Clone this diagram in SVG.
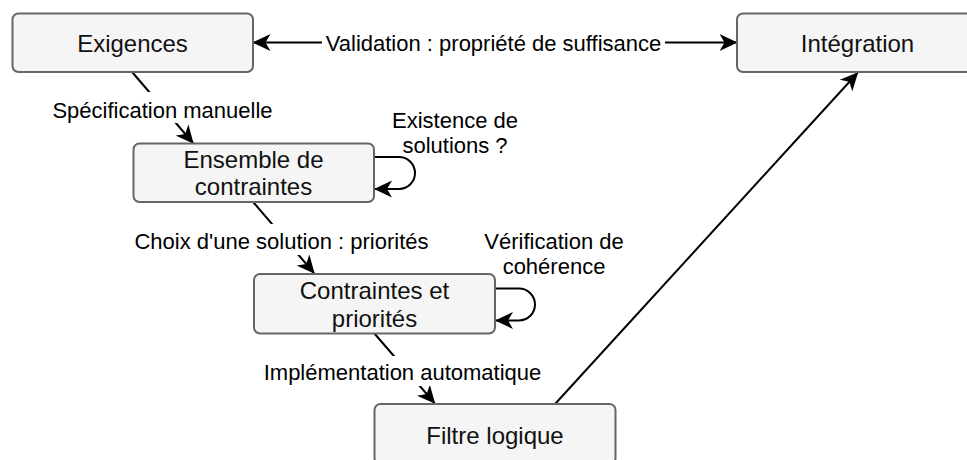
<svg xmlns="http://www.w3.org/2000/svg" width="967" height="460" viewBox="0 0 967 460">
<style>
.node rect{fill:#f5f5f5;stroke:#666666;stroke-width:2}
.node text{font-family:"Liberation Sans",Arial,sans-serif;font-size:24px;fill:#111;text-anchor:middle}
.edge{fill:none;stroke:#000;stroke-width:2}
.lbl text{font-family:"Liberation Sans",Arial,sans-serif;font-size:22px;fill:#000;text-anchor:middle}
.lbl rect{fill:#fff;stroke:none}
</style>
<defs>
<marker id="arr" viewBox="0 0 18 18" refX="17" refY="9" markerWidth="18" markerHeight="18" markerUnits="userSpaceOnUse" orient="auto-start-reverse">
<path d="M0,0.5 L18,9 L0,17.5 L5,9 Z" fill="#000"/>
</marker>
</defs>
<rect width="967" height="460" fill="#fff"/>
<g id="connectors">
<path class="edge" d="M253.5,42.5 H736.5" marker-start="url(#arr)" marker-end="url(#arr)"/>
<path class="edge" d="M132.5,72.5 L193,143" marker-end="url(#arr)"/>
<path class="edge" d="M253.5,202.5 L314,273" marker-end="url(#arr)"/>
<path class="edge" d="M374,333 L434.5,403" marker-end="url(#arr)"/>
<path class="edge" d="M555.5,403.5 L857.5,73" marker-end="url(#arr)"/>
<path class="edge" d="M374.5,157 H399 A16,16 0 0 1 399,189 H375" marker-end="url(#arr)"/>
<path class="edge" d="M495.5,288.5 H519 A16,16 0 0 1 519,320.5 H496" marker-end="url(#arr)"/>
</g>
<g id="edge-labels" class="lbl">
<rect x="322" y="27" width="343" height="30"/>
<text x="493.5" y="50.5">Validation : propriété de suffisance</text>
<rect x="50" y="92" width="226" height="31"/>
<text x="162.5" y="117.5">Spécification manuelle</text>
<rect x="145" y="224" width="273" height="31"/>
<text x="281.5" y="249">Choix d'une solution : priorités</text>
<rect x="275" y="356" width="255" height="30"/>
<text x="402.5" y="379.5">Implémentation automatique</text>
<text x="455" y="128">Existence de</text>
<text x="455" y="153">solutions ?</text>
<text x="554" y="249">Vérification de</text>
<text x="554" y="274">cohérence</text>
</g>
<g id="exigences" class="node">
<rect x="12.5" y="13.5" width="240.5" height="58.5" rx="6"/>
<text x="132.5" y="51.7">Exigences</text>
</g>
<g id="integration" class="node">
<rect x="737" y="13.5" width="241" height="58.5" rx="6"/>
<text x="857.5" y="51.7">Intégration</text>
</g>
<g id="ensemble" class="node">
<rect x="133.5" y="143.5" width="240.5" height="58.5" rx="6"/>
<text x="253.5" y="167.7">Ensemble de</text>
<text x="253.5" y="195">contraintes</text>
</g>
<g id="contraintes" class="node">
<rect x="254" y="274" width="241" height="59.5" rx="6"/>
<text x="374.5" y="299.3">Contraintes et</text>
<text x="374.5" y="327">priorités</text>
</g>
<g id="filtre" class="node">
<rect x="374.5" y="404" width="241" height="60" rx="6"/>
<text x="495" y="443.5">Filtre logique</text>
</g>
</svg>
